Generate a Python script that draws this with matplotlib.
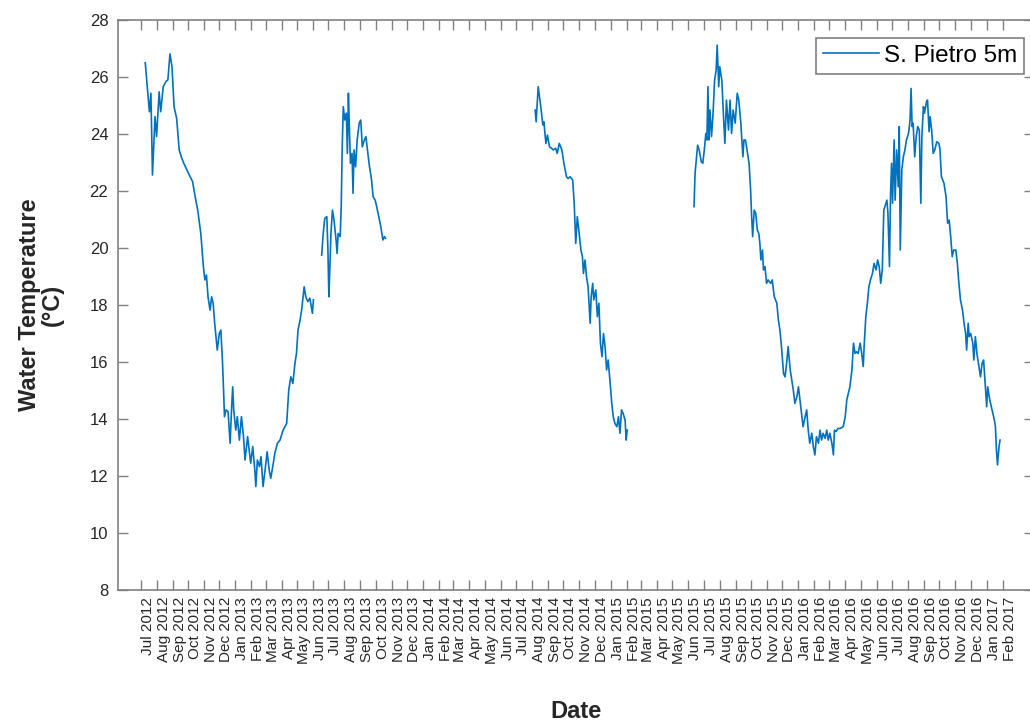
import pandas as pd
import matplotlib
matplotlib.use("Agg")
import matplotlib.pyplot as plt

plt.rcParams['font.family'] = ['Liberation Sans', 'DejaVu Sans']

# logger record, stored as days since 1 Jul 2012 and temperature in degC
t0 = pd.Timestamp('2012-07-01')

days_a = [9, 17, 20, 23, 28, 31, 36, 39, 44, 49, 53, 57, 61, 65, 70, 75, 80, 84, 93, 101,
          106, 111, 117, 122, 125, 128, 131, 135, 138, 141, 144, 149, 153, 156, 159, 161,
          163, 166, 170, 174, 177, 179, 181, 185, 188, 192, 196, 200, 203, 208, 211, 214,
          218, 222, 224, 227, 231, 234, 238, 242, 246, 250, 253, 258, 261, 266, 271, 277,
          284, 288, 292, 296, 300, 303, 306, 310, 313, 318, 321, 325, 329, 334, 336]
temp_a = [26.50, 24.78, 25.43, 22.56, 24.61, 23.91, 25.48, 24.78, 25.66, 25.84, 25.90, 26.81,
          26.36, 24.96, 24.55, 23.44, 23.15, 22.97, 22.62, 22.33, 21.80, 21.33, 20.51, 19.35,
          18.88, 19.05, 18.29, 17.82, 18.29, 18.06, 17.36, 16.42, 17.00, 17.12, 16.07, 15.13,
          14.08, 14.32, 14.26, 13.15, 14.43, 15.13, 14.32, 13.61, 14.08, 13.26, 14.08, 13.38,
          12.56, 13.38, 12.91, 12.45, 13.03, 12.21, 11.63, 12.56, 12.33, 12.68, 11.63, 12.21,
          12.85, 12.21, 11.92, 12.45, 12.80, 13.15, 13.26, 13.61, 13.85, 15.02, 15.48, 15.25,
          15.95, 16.30, 17.12, 17.47, 17.82, 18.64, 18.29, 18.12, 18.24, 17.71, 18.18]

days_b = [352, 355, 358, 362, 364, 366, 368, 370, 373, 376, 380, 382, 384, 388, 390, 392,
          394, 397, 400, 402, 404, 406, 408, 411, 413, 415, 418, 421, 425, 428, 431, 435,
          438, 441, 445, 449, 452, 456, 459, 463, 467, 471, 474, 476]
temp_b = [19.75, 20.51, 21.04, 21.10, 20.05, 18.29, 19.35, 20.51, 21.33, 20.98, 20.28, 19.81,
          20.51, 20.40, 21.45, 23.55, 24.96, 24.49, 24.73, 23.32, 25.43, 24.14, 22.97, 23.32,
          21.92, 23.44, 22.85, 23.79, 24.38, 24.49, 23.55, 23.79, 23.91, 23.44, 22.85, 22.39,
          21.80, 21.68, 21.45, 21.10, 20.75, 20.28, 20.40, 20.34]

days_c = [767, 769, 773, 778, 782, 784, 788, 791, 795, 799, 802, 807, 810, 814, 819, 823,
          828, 831, 835, 840, 843, 846, 849, 852, 856, 859, 861, 864, 867, 870, 874, 876,
          879, 881, 885, 888, 891, 894, 897, 900, 903, 906, 909, 913, 916, 919, 922, 926,
          929, 932, 935, 938, 942, 944, 946]
temp_c = [24.84, 24.43, 25.66, 24.96, 24.32, 24.43, 23.67, 23.96, 23.55, 23.50, 23.44, 23.50,
          23.32, 23.67, 23.44, 22.97, 22.50, 22.44, 22.50, 22.39, 21.57, 20.16, 21.10, 20.63,
          19.93, 19.70, 19.11, 19.58, 18.99, 18.64, 17.36, 18.29, 18.76, 18.18, 18.53, 17.59,
          18.06, 16.66, 16.19, 17.00, 16.54, 15.72, 16.07, 15.25, 14.55, 14.08, 13.85, 13.73,
          14.08, 13.50, 14.32, 14.20, 13.96, 13.26, 13.61]

days_d = [1076, 1078, 1081, 1083, 1086, 1090, 1093, 1096, 1099, 1101, 1103, 1105, 1107, 1110,
          1113, 1116, 1119, 1121, 1124, 1126, 1130, 1133, 1136, 1139, 1143, 1146, 1149, 1152,
          1156, 1160, 1163, 1167, 1171, 1173, 1176, 1180, 1183, 1186, 1188, 1190, 1193, 1196,
          1199, 1202, 1204, 1206, 1209, 1211, 1214, 1217, 1220, 1225, 1228, 1232, 1237, 1240,
          1243, 1246, 1250, 1253, 1256, 1259, 1263, 1266, 1269, 1272, 1276, 1279, 1282, 1285,
          1288, 1292, 1295, 1298, 1301, 1305, 1308, 1311, 1314, 1318, 1321, 1324, 1327, 1331,
          1334, 1337, 1340, 1344, 1347, 1349, 1352, 1356, 1360, 1366, 1370, 1373, 1376, 1379,
          1383, 1386, 1389, 1392, 1395, 1399, 1402, 1405, 1407, 1410, 1413, 1416, 1419, 1423,
          1426, 1430, 1433, 1436, 1439, 1442, 1445, 1449, 1451, 1453, 1456, 1458, 1460, 1462,
          1465, 1467, 1470, 1473, 1475, 1477, 1480, 1483, 1486, 1489, 1493, 1496, 1498, 1500,
          1502, 1505, 1508, 1511, 1514, 1517, 1519, 1522, 1524, 1528, 1530, 1533, 1535, 1538,
          1541, 1544, 1548, 1552, 1554, 1557, 1562, 1566, 1569, 1572, 1575, 1578, 1581, 1585,
          1588, 1591, 1594, 1598, 1601, 1604, 1606, 1609, 1611, 1614, 1618, 1620, 1623, 1626,
          1629, 1633, 1636, 1639, 1642, 1645, 1647, 1651, 1654, 1657, 1660, 1662, 1664, 1666,
          1669, 1671]
temp_d = [21.45, 22.62, 23.20, 23.61, 23.44, 23.03, 22.97, 23.44, 24.02, 23.79, 25.66, 23.79,
          24.84, 23.91, 24.73, 25.89, 26.25, 27.12, 25.66, 26.36, 25.89, 24.73, 23.67, 25.19,
          24.14, 25.19, 24.02, 24.84, 24.38, 25.43, 25.19, 24.38, 23.20, 23.79, 23.79, 23.32,
          22.97, 22.04, 21.10, 20.40, 21.33, 21.22, 20.63, 20.51, 20.16, 19.58, 19.93, 19.23,
          19.35, 18.76, 18.88, 18.76, 18.88, 18.29, 18.06, 17.47, 17.12, 16.54, 15.60, 15.48,
          15.95, 16.54, 15.72, 15.37, 15.02, 14.55, 14.78, 15.13, 14.67, 14.20, 13.73, 14.08,
          14.32, 13.61, 13.15, 13.50, 13.03, 12.74, 13.38, 13.15, 13.61, 13.26, 13.50, 13.32,
          13.61, 13.26, 13.50, 13.15, 12.74, 13.61, 13.56, 13.67, 13.67, 13.73, 14.08, 14.67,
          14.90, 15.13, 15.72, 16.66, 16.30, 16.36, 16.30, 16.66, 16.30, 15.84, 16.66, 17.59,
          18.06, 18.64, 18.88, 19.11, 19.46, 19.23, 19.58, 19.35, 18.76, 19.23, 21.33, 21.57,
          21.68, 21.22, 19.35, 21.80, 22.97, 21.57, 23.79, 21.68, 23.44, 22.15, 24.26, 19.93,
          22.74, 23.20, 23.44, 23.79, 24.02, 24.49, 25.60, 24.26, 24.38, 23.20, 23.91, 24.26,
          24.14, 21.57, 23.91, 24.96, 24.73, 25.13, 25.19, 24.08, 24.61, 24.14, 23.32, 23.44,
          23.73, 23.67, 23.50, 22.50, 22.27, 21.80, 20.87, 20.98, 20.40, 19.70, 19.93, 19.93,
          19.46, 18.76, 18.18, 17.82, 17.36, 17.00, 16.42, 17.36, 16.89, 17.00, 16.66, 16.07,
          16.89, 16.30, 15.95, 15.48, 15.95, 16.07, 15.25, 14.43, 15.13, 14.67, 14.43, 14.20,
          13.96, 13.73, 12.91, 12.39, 13.03, 13.26]

segments = [(days_a, temp_a), (days_b, temp_b), (days_c, temp_c), (days_d, temp_d)]

axis_grey = '#808080'
text_grey = '#262626'
line_blue = '#0072BD'

fig = plt.figure(figsize=(10.30, 7.24), dpi=100)
ax = fig.add_axes([118 / 1030, 1 - 590 / 724, 916 / 1030, 570 / 724])

for i, (d, v) in enumerate(segments):
    dates = t0 + pd.to_timedelta(d, unit='D')
    ax.plot(dates, v, color=line_blue, lw=1.2,
            label='S. Pietro 5m' if i == 0 else None)

ax.set_xlim(pd.Timestamp('2012-05-18'), pd.Timestamp('2017-04-03'))
ax.set_ylim(8, 28)
ax.set_yticks(range(8, 29, 2))

# one tick per month, label sits just right of its tick
months = pd.date_range('2012-07-01', '2017-02-01', freq='MS')
ax.set_xticks(months)
ax.set_xticklabels([m.strftime('%b %Y') for m in months], rotation=90,
                   ha='left', va='top', fontsize=11, color=text_grey)

ax.tick_params(axis='both', direction='in', length=7, width=1.0, color=axis_grey,
               top=True, right=True)
ax.tick_params(axis='x', pad=5)
ax.tick_params(axis='y', labelsize=12, labelcolor=text_grey, pad=7)
for s in ax.spines.values():
    s.set_color(axis_grey)
    s.set_linewidth(1.2)

fig.text(41 / 1030, 1 - 305 / 724, 'Water Temperature\n(°C)', rotation=90,
         ha='center', va='center', fontsize=17, fontweight='bold',
         color=text_grey, linespacing=0.95)
fig.text(576 / 1030, 1 - 711 / 724, 'Date', ha='center', va='center',
         fontsize=17, fontweight='bold', color=text_grey)

leg = ax.legend(loc='upper right', bbox_to_anchor=(1024 / 1030, 1 - 38 / 724),
                bbox_transform=fig.transFigure, borderaxespad=0, fontsize=17.5,
                handlelength=2.3, handletextpad=0.2, borderpad=0.28,
                fancybox=False, framealpha=1)
leg.get_frame().set_edgecolor(axis_grey)
leg.get_frame().set_linewidth(1.2)

fig.savefig('out.png', dpi=100)
